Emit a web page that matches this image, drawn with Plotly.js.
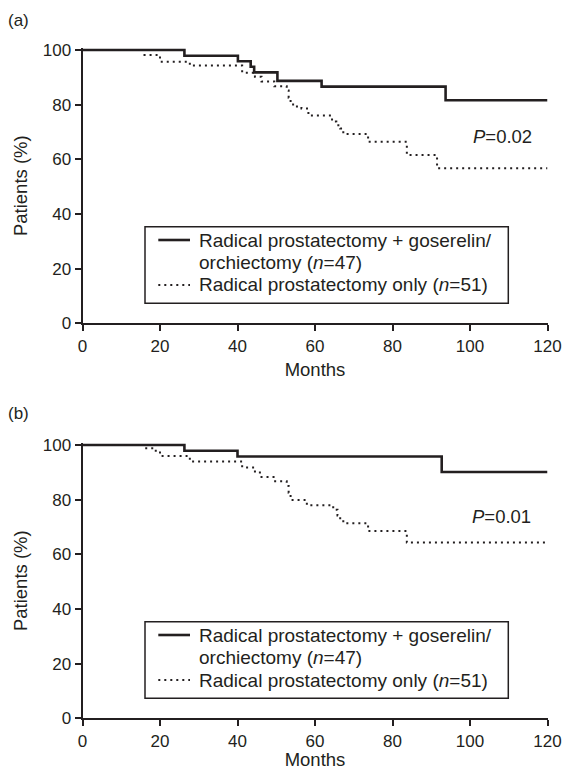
<!DOCTYPE html>
<html>
<head>
<meta charset="utf-8">
<script src="https://cdn.plot.ly/plotly-3.0.1.min.js"></script>
<style>
  html, body { margin: 0; padding: 0; background: #fff; }
  #chart { width: 564px; height: 770px; }
</style>
</head>
<body>
<div id="chart"></div>
<script>
// Kaplan–Meier step curves, panel (a)
const monthsA_combined = [0, 26.3, 40.1, 43.4, 44.3, 50.3, 61.7, 93.7, 120];
const survA_combined   = [100, 97.9, 95.9, 93.9, 91.8, 88.7, 86.6, 81.6, 81.6];
const monthsA_rpOnly = [0, 16, 20, 27.7, 41.2, 44.5, 46.2, 49.5, 52.7, 53.2, 53.7, 55, 56.5, 58.3, 64.4, 65.5, 66.5, 67.3, 73.7, 83.7, 91.5, 120];
const survA_rpOnly   = [100, 98.2, 95.7, 94.3, 91.7, 90.2, 88.5, 86.7, 85.2, 82.5, 80.1, 79.3, 78.6, 76.0, 73.8, 72.5, 71.3, 69.3, 66.4, 61.6, 56.7, 56.7];

// Kaplan–Meier step curves, panel (b)
const monthsB_combined = [0, 26.3, 40, 92.7, 120];
const survB_combined   = [100, 97.9, 95.8, 90.1, 90.1];
const monthsB_rpOnly = [0, 16, 18, 20, 27.7, 41.2, 44.5, 46.2, 49.3, 52.7, 53.2, 53.7, 57.9, 64.7, 65.8, 66.5, 67.3, 73.7, 83.7, 120];
const survB_rpOnly   = [100, 98.8, 97.9, 96.0, 94.0, 91.8, 89.9, 88.3, 86.7, 85.0, 82.5, 79.9, 78.0, 76.3, 74.2, 72.6, 71.4, 68.5, 64.3, 64.3];

// Legend lines (the combined-therapy entry wraps onto two lines)
const legendLines = [
  'Radical prostatectomy + goserelin/',
  'orchiectomy (<i>n</i>=47)',
  'Radical prostatectomy only (<i>n</i>=51)'
];

// P-values and where their labels sit (months, %)
const pValues = ['0.02', '0.01'];
const pLabelAt = [[108.5, 68.2], [108, 73.7]];

// Axis ticks
const xTicks = [0, 20, 40, 60, 80, 100, 120];
const yTicks = [0, 20, 40, 60, 80, 100];

const INK = '#231f20';
const FONT = 'Liberation Sans, Arial, Helvetica, sans-serif';
const W = 564, H = 770;
const SOLID = { color: INK, width: 2.6 };
const DOTTED = { color: INK, width: 2, dash: '2px,4px' };

function stepTrace(x, y, dotted, xa, ya) {
  return {
    x: x, y: y, type: 'scatter', mode: 'lines', showlegend: false,
    xaxis: xa, yaxis: ya,
    line: Object.assign({ shape: 'hv' }, dotted ? DOTTED : SOLID),
    hoverinfo: 'skip'
  };
}

const traces = [
  stepTrace(monthsA_combined, survA_combined, false, 'x', 'y'),
  stepTrace(monthsA_rpOnly, survA_rpOnly, true, 'x', 'y'),
  stepTrace(monthsB_combined, survB_combined, false, 'x2', 'y2'),
  stepTrace(monthsB_rpOnly, survB_rpOnly, true, 'x2', 'y2')
];

const xDomain = [82.5 / W, 547.5 / W];

function xAxis(anchor) {
  return {
    domain: xDomain, anchor: anchor, range: [0, 120],
    tickvals: xTicks, ticktext: xTicks.map(String),
    ticks: 'outside', ticklen: 6, tickwidth: 2, tickcolor: INK,
    showline: true, linecolor: INK, linewidth: 2,
    showgrid: false, zeroline: false,
    tickfont: { family: FONT, size: 17, color: INK },
    title: { text: 'Months', font: { family: FONT, size: 18.5, color: INK }, standoff: 8 }
  };
}
function yAxis(anchor, dom) {
  return {
    domain: dom, anchor: anchor, range: [0, 100.7],
    tickvals: yTicks, ticktext: yTicks.map(String),
    ticks: 'outside', ticklen: 6, tickwidth: 2, tickcolor: INK,
    showline: true, linecolor: INK, linewidth: 2,
    showgrid: false, zeroline: false,
    tickfont: { family: FONT, size: 17, color: INK },
    title: { text: 'Patients (%)', font: { family: FONT, size: 18.5, color: INK }, standoff: 10 }
  };
}

// Pixel helpers for paper-referenced legend decorations
const px = v => v / W;
const py = v => (H - v) / H;

const annotations = [];
const shapes = [];

// Panel letters
[['(a)', 20], ['(b)', 413]].forEach(([t, y]) => {
  annotations.push({ xref: 'paper', yref: 'paper', x: px(18), y: py(y), text: t, showarrow: false,
    xanchor: 'center', yanchor: 'middle', font: { family: FONT, size: 17, color: INK } });
});

// P-value labels
['', '2'].forEach((s, i) => {
  annotations.push({
    xref: 'x' + s, yref: 'y' + s, x: pLabelAt[i][0], y: pLabelAt[i][1],
    text: '<i>P</i>=' + pValues[i], showarrow: false, xanchor: 'center', yanchor: 'middle',
    font: { family: FONT, size: 18.5, color: INK }
  });
});

// Legend box per panel: frame, line samples and text
[0, 395].forEach(off => {
  shapes.push({ type: 'rect', xref: 'paper', yref: 'paper',
    x0: px(145), x1: px(508.3), y0: py(226.7 + off), y1: py(303.3 + off),
    line: { color: INK, width: 1.5 }, fillcolor: 'rgba(0,0,0,0)' });
  shapes.push({ type: 'line', xref: 'paper', yref: 'paper',
    x0: px(158.3), x1: px(190), y0: py(240 + off), y1: py(240 + off), line: SOLID });
  shapes.push({ type: 'line', xref: 'paper', yref: 'paper',
    x0: px(158.3), x1: px(190), y0: py(285 + off), y1: py(285 + off), line: DOTTED });
  [240, 262.5, 285].forEach((y, k) => {
    annotations.push({ xref: 'paper', yref: 'paper', x: px(197), y: py(y + off),
      text: legendLines[k], showarrow: false, xanchor: 'left', yanchor: 'middle',
      font: { family: FONT, size: 19, color: INK } });
  });
});

const layout = {
  width: W, height: H, autosize: false,
  margin: { l: 0, r: 0, t: 0, b: 0 },
  paper_bgcolor: '#fff', plot_bgcolor: '#fff',
  showlegend: false,
  xaxis: xAxis('y'),
  yaxis: yAxis('x', [py(323.3), py(48.1)]),
  xaxis2: xAxis('y2'),
  yaxis2: yAxis('x2', [py(718.3), py(443.1)]),
  annotations: annotations,
  shapes: shapes
};

Plotly.newPlot('chart', traces, layout, { staticPlot: true, displayModeBar: false });
</script>
</body>
</html>
